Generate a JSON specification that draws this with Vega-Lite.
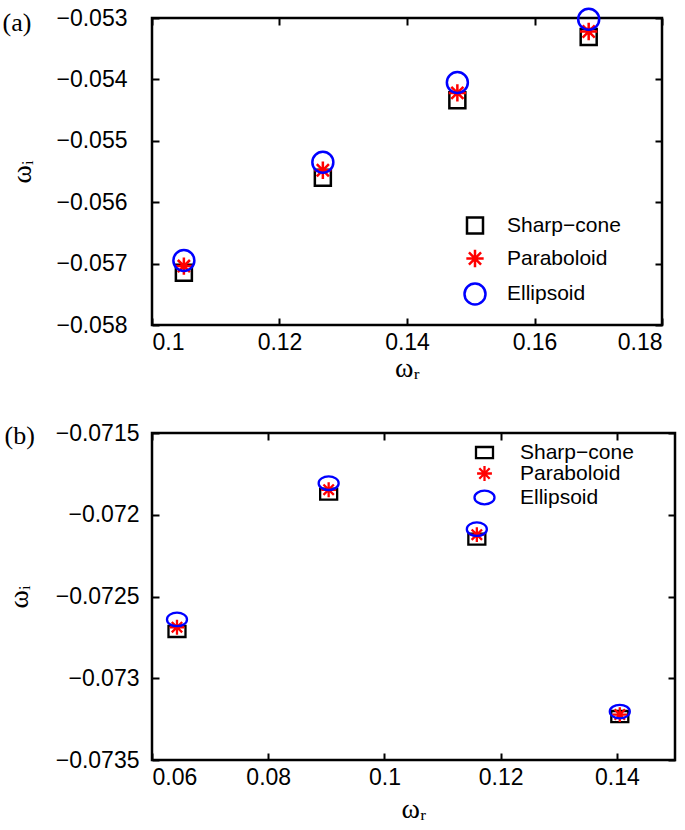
{
  "$schema": "https://vega.github.io/schema/vega-lite/v6.json",
  "padding": {"left": 0, "top": 2, "right": 5, "bottom": 5},
  "background": "white",
  "spacing": 36,
  "resolve": {"scale": {"color": "independent", "shape": "independent", "size": "independent"}, "legend": {"color": "independent", "shape": "independent", "size": "independent"}},
  "datasets": {
    "a": [
      {"model": "Sharp−cone", "wr": 0.1050, "wi": -0.05715},
      {"model": "Sharp−cone", "wr": 0.1268, "wi": -0.05560},
      {"model": "Sharp−cone", "wr": 0.1479, "wi": -0.05434},
      {"model": "Sharp−cone", "wr": 0.1685, "wi": -0.05331},
      {"model": "Paraboloid", "wr": 0.1050, "wi": -0.05704},
      {"model": "Paraboloid", "wr": 0.1268, "wi": -0.05548},
      {"model": "Paraboloid", "wr": 0.1479, "wi": -0.05422},
      {"model": "Paraboloid", "wr": 0.1685, "wi": -0.05322},
      {"model": "Ellipsoid", "wr": 0.1050, "wi": -0.05695},
      {"model": "Ellipsoid", "wr": 0.1268, "wi": -0.05535},
      {"model": "Ellipsoid", "wr": 0.1479, "wi": -0.05405},
      {"model": "Ellipsoid", "wr": 0.1685, "wi": -0.05302}
    ],
    "b": [
      {"model": "Sharp−cone", "wr": 0.0643, "wi": -0.072714},
      {"model": "Sharp−cone", "wr": 0.0904, "wi": -0.071874},
      {"model": "Sharp−cone", "wr": 0.1159, "wi": -0.072149},
      {"model": "Sharp−cone", "wr": 0.1405, "wi": -0.073234},
      {"model": "Paraboloid", "wr": 0.0643, "wi": -0.072688},
      {"model": "Paraboloid", "wr": 0.0904, "wi": -0.071847},
      {"model": "Paraboloid", "wr": 0.1159, "wi": -0.072122},
      {"model": "Paraboloid", "wr": 0.1405, "wi": -0.073222},
      {"model": "Ellipsoid", "wr": 0.0643, "wi": -0.07264},
      {"model": "Ellipsoid", "wr": 0.0904, "wi": -0.071807},
      {"model": "Ellipsoid", "wr": 0.1159, "wi": -0.072088},
      {"model": "Ellipsoid", "wr": 0.1405, "wi": -0.073204}
    ]
  },
  "vconcat": [
    {
      "width": 510,
      "height": 307,
      "data": {"name": "a"},
      "layer": [
        {
          "mark": {"type": "point", "filled": false, "strokeWidth": 2.5, "opacity": 1},
          "encoding": {
            "x": {"field": "wr", "type": "quantitative", "scale": {"domain": [0.1, 0.18], "nice": false, "zero": false},
                  "axis": {"orient": "bottom", "title": "ωᵣ", "values": [0.1, 0.12, 0.14, 0.16, 0.18], "format": "~g", "labelPadding": 13, "titlePadding": 0}},
            "y": {"field": "wi", "type": "quantitative", "scale": {"domain": [-0.058, -0.053], "nice": false, "zero": false},
                  "axis": {"orient": "left", "title": "ωᵢ", "values": [-0.058, -0.057, -0.056, -0.055, -0.054, -0.053], "format": ".3f", "labelPadding": 32, "titlePadding": 20}},
            "color": {"field": "model", "type": "nominal", "scale": {"domain": ["Sharp−cone", "Paraboloid", "Ellipsoid"], "range": ["black", "#ff0000", "#0000ff"]},
                      "legend": {"orient": "none", "legendX": 311, "legendY": 197, "title": null, "rowPadding": 5, "labelOffset": 20, "symbolStrokeWidth": 2.5}},
            "shape": {"field": "model", "type": "nominal", "scale": {"domain": ["Sharp−cone", "Paraboloid", "Ellipsoid"], "range": ["square", "M0,-1L0,1M-1,0L1,0M-0.7,-0.7L0.7,0.7M-0.7,0.7L0.7,-0.7", "circle"]}},
            "size": {"field": "model", "type": "nominal", "scale": {"type": "ordinal", "domain": ["Sharp−cone", "Paraboloid", "Ellipsoid"], "range": [256, 300, 441]}}
          }
        },
        {
          "mark": {"type": "point", "opacity": 0},
          "encoding": {
            "x": {"field": "wr", "type": "quantitative", "axis": {"orient": "top", "labels": false, "values": [0.1, 0.12, 0.14, 0.16, 0.18],
                  "title": "(a)", "titleX": -150, "titleY": 4, "titleAngle": 0, "titleAlign": "left", "titleBaseline": "middle", "titleFontSize": 26}},
            "y": {"field": "wi", "type": "quantitative", "axis": {"orient": "right", "labels": false, "title": null, "values": [-0.058, -0.057, -0.056, -0.055, -0.054, -0.053]}}
          }
        }
      ]
    },
    {
      "width": 523,
      "height": 327,
      "data": {"name": "b"},
      "layer": [
        {
          "mark": {"type": "point", "filled": false, "strokeWidth": 2.3, "opacity": 1},
          "encoding": {
            "x": {"field": "wr", "type": "quantitative", "scale": {"domain": [0.06, 0.15], "nice": false, "zero": false},
                  "axis": {"orient": "bottom", "title": "ωᵣ", "values": [0.06, 0.08, 0.1, 0.12, 0.14], "format": "~g", "labelPadding": 13, "titlePadding": 6}},
            "y": {"field": "wi", "type": "quantitative", "scale": {"domain": [-0.0735, -0.0715], "nice": false, "zero": false},
                  "axis": {"orient": "left", "title": "ωᵢ", "values": [-0.0735, -0.073, -0.0725, -0.072, -0.0715], "format": "~g", "labelPadding": 20, "titlePadding": 22}},
            "color": {"field": "model", "type": "nominal", "scale": {"domain": ["Sharp−cone", "Paraboloid", "Ellipsoid"], "range": ["black", "#ff0000", "#0000ff"]},
                      "legend": {"orient": "none", "legendX": 321, "legendY": 9, "title": null, "rowPadding": -2, "labelOffset": 24, "symbolStrokeWidth": 2.3}},
            "shape": {"field": "model", "type": "nominal", "scale": {"domain": ["Sharp−cone", "Paraboloid", "Ellipsoid"], "range": ["M-1,-0.65L1,-0.65L1,0.65L-1,0.65Z", "M0,-1L0,1M-1,0L1,0M-0.7,-0.7L0.7,0.7M-0.7,0.7L0.7,-0.7", "M-1,0C-1,-0.3756 -0.5523,-0.68 0,-0.68C0.5523,-0.68 1,-0.3756 1,0C1,0.3756 0.5523,0.68 0,0.68C-0.5523,0.68 -1,0.3756 -1,0Z"]}},
            "size": {"field": "model", "type": "nominal", "scale": {"type": "ordinal", "domain": ["Sharp−cone", "Paraboloid", "Ellipsoid"], "range": [289, 220, 400]}}
          }
        },
        {
          "mark": {"type": "point", "opacity": 0},
          "encoding": {
            "x": {"field": "wr", "type": "quantitative", "axis": {"orient": "top", "labels": false, "values": [0.06, 0.08, 0.1, 0.12, 0.14],
                  "title": "(b)", "titleX": -148, "titleY": 2, "titleAngle": 0, "titleAlign": "left", "titleBaseline": "middle", "titleFontSize": 26}},
            "y": {"field": "wi", "type": "quantitative", "axis": {"orient": "right", "labels": false, "title": null, "values": [-0.0735, -0.073, -0.0725, -0.072, -0.0715]}}
          }
        }
      ]
    }
  ],
  "config": {
    "view": {"stroke": "black", "strokeWidth": 2.5},
    "axis": {"grid": false, "domain": false, "ticks": true, "tickColor": "black", "tickWidth": 2, "tickSize": -7,
             "labelFont": "Liberation Sans", "labelFontSize": 23, "labelColor": "black",
             "titleFont": "Liberation Serif", "titleFontSize": 28, "titleFontWeight": "normal", "titleColor": "black"},
    "legend": {"labelFont": "Liberation Sans", "labelFontSize": 21, "labelColor": "black", "labelLimit": 0}
  }
}
